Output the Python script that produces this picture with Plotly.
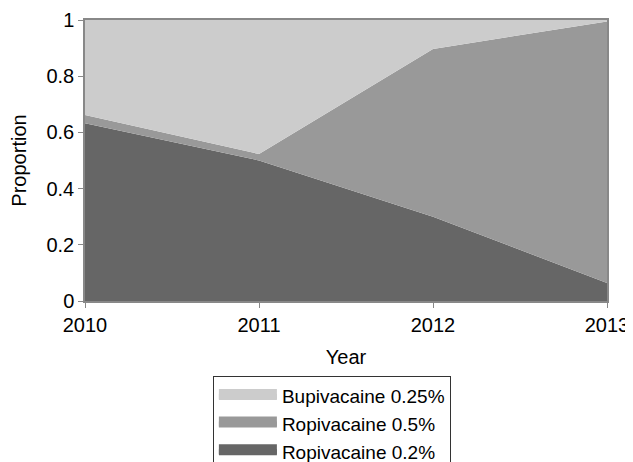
import plotly.graph_objects as go

years = [2010, 2011, 2012, 2013]
ropi_02 = [0.633, 0.50, 0.30, 0.064]
ropi_05 = [0.029, 0.023, 0.597, 0.931]
bupi_025 = [0.338, 0.477, 0.103, 0.005]

series = [
    ("Ropivacaine 0.2%", ropi_02, "#666666"),
    ("Ropivacaine 0.5%", ropi_05, "#999999"),
    ("Bupivacaine 0.25%", bupi_025, "#cccccc"),
]

fig = go.Figure()
for name, vals, col in series:
    fig.add_trace(go.Scatter(
        x=years, y=vals, name=name, mode="lines",
        stackgroup="one", line=dict(width=0, color=col),
        fillcolor=col, showlegend=False,
    ))
# legend-only entries with thicker swatches
for name, vals, col in series:
    fig.add_trace(go.Scatter(
        x=[None], y=[None], name=name, mode="lines",
        fill="toself", fillcolor=col, line=dict(width=10, color=col),
        showlegend=True, hoverinfo="skip",
    ))

font = "Liberation Sans, Arial, sans-serif"
# page body has an 8px default margin, so the figure is sized to fit the window
fig.update_layout(
    width=625, height=454,
    margin=dict(l=77, r=26, t=12, b=161, autoexpand=False),
    paper_bgcolor="white", plot_bgcolor="white",
    font=dict(family=font, size=20, color="black"),
    showlegend=True,
    legend=dict(
        traceorder="reversed",
        x=0.245, y=-0.267, xanchor="left", yanchor="top",
        bordercolor="#333333", borderwidth=1,
        font=dict(size=19), tracegroupgap=0,
        itemwidth=58,
    ),
    xaxis=dict(
        range=[2010, 2013], tickvals=years, ticktext=[str(y) for y in years],
        showgrid=False, zeroline=False, automargin=False,
        showline=True, linecolor="#888888", linewidth=1.5, mirror=True,
        ticks="outside", ticklen=5, tickcolor="#888888",
        tickfont=dict(size=20),
        title=dict(text="Year", font=dict(size=20)),
    ),
    yaxis=dict(
        range=[0, 1], tickvals=[0, 0.2, 0.4, 0.6, 0.8, 1],
        ticktext=["0", "0.2", "0.4", "0.6", "0.8", "1"],
        showgrid=False, zeroline=False, automargin=False,
        showline=True, linecolor="#888888", linewidth=1.5, mirror=True,
        ticks="outside", ticklen=5, tickcolor="#888888",
        tickfont=dict(size=20),
        title=dict(text="Proportion", font=dict(size=20)),
    ),
)

fig.write_html("out.html")
